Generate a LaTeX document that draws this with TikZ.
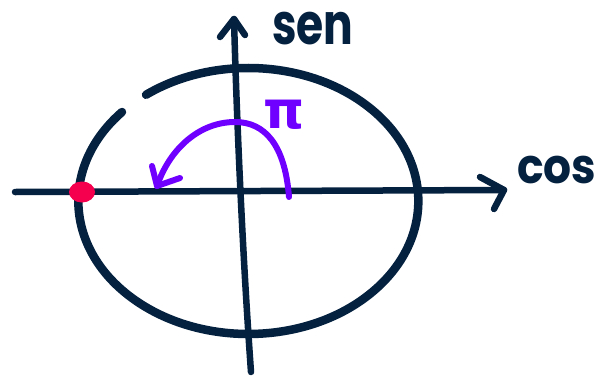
\documentclass[tikz,border=0pt]{standalone}
\usepackage{fontspec}
\newfontfamily\handfont{Poppins}
\newfontfamily\greekfont{DejaVu Sans}
\definecolor{navy}{HTML}{04213F}
\definecolor{violet}{HTML}{6F00FF}
\definecolor{dotred}{HTML}{F5004F}
\begin{document}
\begin{tikzpicture}[x=1pt,y=-1pt,
  axis/.style={draw=navy,line width=6.5pt,line cap=round,line join=round},
  ring/.style={draw=navy,line width=8.5pt,line cap=round},
  turn/.style={draw=violet,line width=6pt,line cap=round,line join=round},
  lab/.style={text=navy,font=\handfont\bfseries\fontsize{44}{44}\selectfont,inner sep=0pt}]
\useasboundingbox (0,0) rectangle (602,378);
% coordinates
\coordinate (xl) at (15,192);
\coordinate (xr) at (504,190);
\coordinate (yb) at (251,372);
\coordinate (yt) at (234,19);
\coordinate (es) at (122,112);
% ellipse with a small gap at the upper left
\draw[ring] (es) arc[start angle=138,end angle=487,x radius=170pt,y radius=133pt];
% axes
\draw[axis] (xl) -- (xr);
\draw[axis] (480,177) -- (xr) -- (494,209);
\draw[axis] (yb) .. controls (243,260) and (237,130) .. (yt);
\draw[axis] (220,37) -- (yt) -- (245,35);
% labels
\node[lab,anchor=base west,yscale=1.3] (sen) at (272,44) {sen};
\node[lab,anchor=base west,yscale=1.1] (cos) at (517,183) {cos};
% purple arc
\coordinate (ps) at (289,197);
\coordinate (pt) at (157,186);
\draw[turn] (ps) .. controls (285,145) and (265,122) .. (235,122) .. controls (200,122) and (170,148) .. (pt);
\draw[turn] (152,166) -- (pt) -- (180,178);
\node[text=violet,font=\greekfont\bfseries\fontsize{52}{52}\selectfont,inner sep=0pt,anchor=base] (pi) at (284,128) {π};
% red dot
\fill[dotred] (82,192) ellipse[x radius=13pt,y radius=10.5pt];
\end{tikzpicture}
\end{document}
